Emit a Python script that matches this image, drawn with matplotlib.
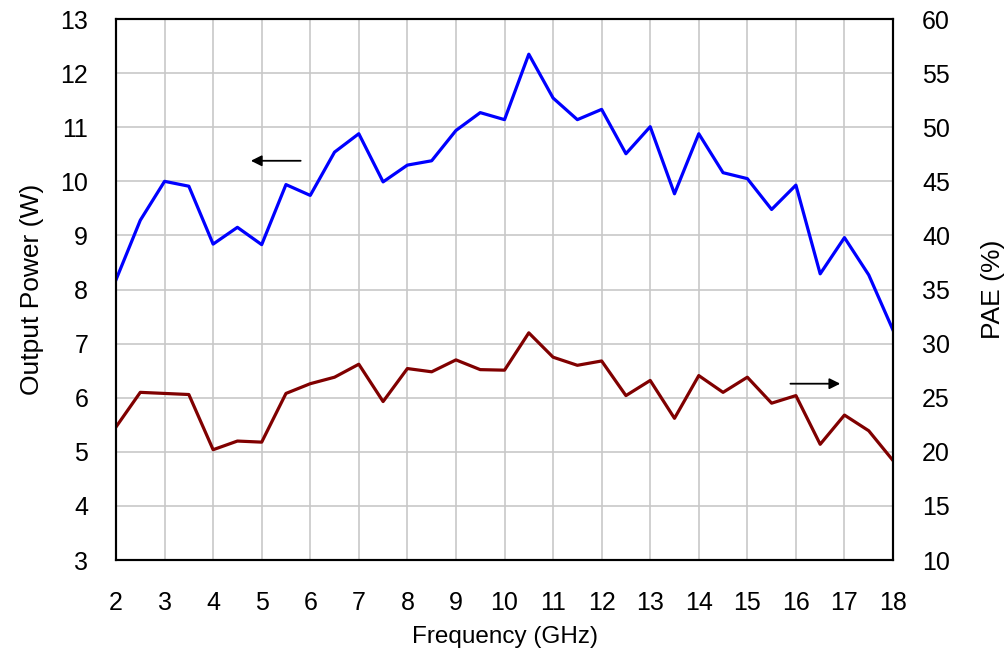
import matplotlib.pyplot as plt
import numpy as np

plt.rcParams['font.family'] = ['Liberation Sans', 'DejaVu Sans']

# Frequenzpunkte (GHz)
freq = [2, 2.5, 3, 3.5, 4, 4.5, 5, 5.5, 6, 6.5, 7, 7.5, 8, 8.5, 9, 9.5, 10,
        10.5, 11, 11.5, 12, 12.5, 13, 13.5, 14, 14.5, 15, 15.5, 16, 16.5, 17, 17.5, 18]

# Ausgangsleistung (W)
power = [8.18, 9.28, 10.0, 9.91, 8.84, 9.15, 8.83, 9.94, 9.74, 10.54, 10.88, 9.99,
         10.30, 10.38, 10.94, 11.27, 11.14, 12.35, 11.54, 11.14, 11.33, 10.51, 11.01,
         9.77, 10.88, 10.16, 10.05, 9.48, 9.93, 8.29, 8.96, 8.27, 7.25]

# PAE (%)
pae = [22.3, 25.5, 25.4, 25.3, 20.2, 21.0, 20.9, 25.4, 26.3, 26.9, 28.1, 24.65,
       27.7, 27.4, 28.5, 27.6, 27.55, 31.0, 28.75, 28.0, 28.4, 25.2, 26.6, 23.1,
       27.05, 25.5, 26.9, 24.5, 25.2, 20.7, 23.4, 21.95, 19.2]

fig = plt.figure(figsize=(10.06, 6.49), dpi=100)
ax = fig.add_axes([0.1153, 0.137, 0.7724, 0.8337])

ax.plot(freq, power, color='#0000FF', linewidth=2.3)
ax.set_xlim(2, 18)
ax.set_ylim(3, 13)
ax.set_xticks(range(2, 19))
ax.set_yticks(range(3, 14))
ax.grid(True, color='#c8c8c8', linewidth=1.2)
ax.set_axisbelow(True)
ax.tick_params(length=0, labelsize=18)
ax.tick_params(axis='x', pad=22)
ax.tick_params(axis='y', pad=20)
ax.set_xlabel("Frequency (GHz)", fontsize=17.5, labelpad=8)
ax.set_ylabel("Output Power (W)", fontsize=19, labelpad=12)

ax2 = ax.twinx()
ax2.plot(freq, pae, color='#800000', linewidth=2.3)
ax2.set_ylim(10, 60)
ax2.set_yticks(range(10, 61, 5))
ax2.tick_params(length=0, labelsize=18, pad=21)
ax2.set_ylabel("PAE (%)", fontsize=19, labelpad=22)

for a in (ax, ax2):
    for s in a.spines.values():
        s.set_linewidth(1.5)
        s.set_color('black')

# Pfeile
ax.annotate('', xy=(4.72, 10.38), xytext=(5.86, 10.38),
            arrowprops=dict(arrowstyle='-|>', color='black', lw=1.3,
                            mutation_scale=16))
ax2.annotate('', xy=(16.97, 26.3), xytext=(15.83, 26.3),
             arrowprops=dict(arrowstyle='-|>', color='black', lw=1.3,
                             mutation_scale=16))

plt.savefig('out.png', dpi=100)
